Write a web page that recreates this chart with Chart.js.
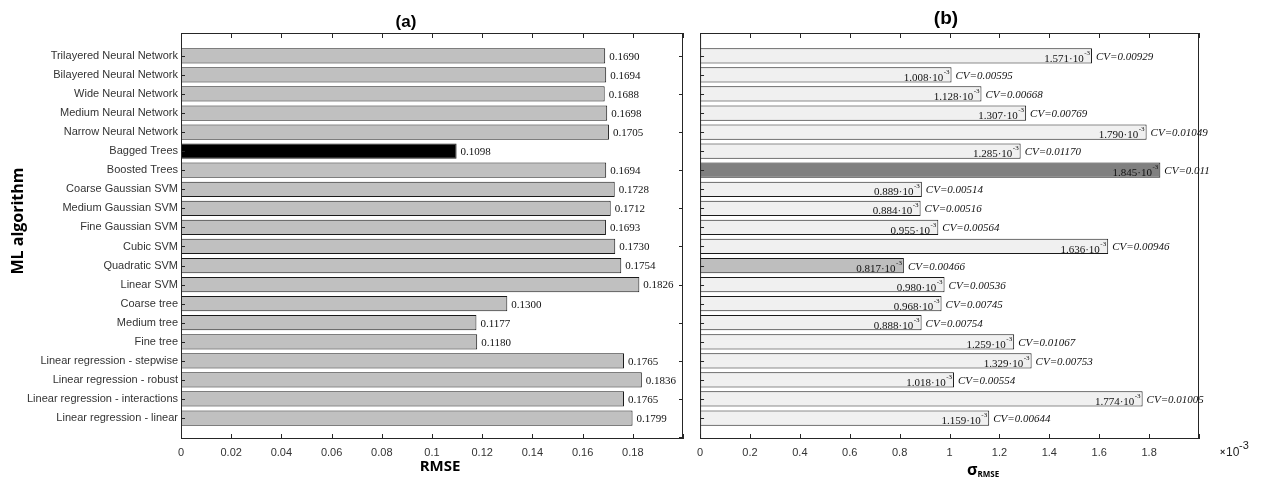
<!DOCTYPE html>
<html>
<head>
<meta charset="utf-8">
<title>ML algorithm - RMSE and sigma RMSE</title>
<script src="https://cdn.jsdelivr.net/npm/chart.js@4.4.1/dist/chart.umd.min.js"></script>
<style>
  body { margin: 0; background: #fff; }
  #wrap { position: relative; width: 1261px; height: 481px; background: #fff; }
  canvas { position: absolute; top: 0; }
  #chartA { left: 0; }
  #chartB { left: 690px; }
</style>
</head>
<body>
<div id="wrap">
  <canvas id="chartA" width="690" height="481"></canvas>
  <canvas id="chartB" width="571" height="481"></canvas>
</div>
<script>
// data, top row first
const algorithms = [
  'Trilayered Neural Network', 'Bilayered Neural Network', 'Wide Neural Network',
  'Medium Neural Network', 'Narrow Neural Network', 'Bagged Trees', 'Boosted Trees',
  'Coarse Gaussian SVM', 'Medium Gaussian SVM', 'Fine Gaussian SVM', 'Cubic SVM',
  'Quadratic SVM', 'Linear SVM', 'Coarse tree', 'Medium tree', 'Fine tree',
  'Linear regression - stepwise', 'Linear regression - robust',
  'Linear regression - interactions', 'Linear regression - linear'
];
const rmse = [0.1690, 0.1694, 0.1688, 0.1698, 0.1705, 0.1098, 0.1694, 0.1728, 0.1712, 0.1693,
              0.1730, 0.1754, 0.1826, 0.1300, 0.1177, 0.1180, 0.1765, 0.1836, 0.1765, 0.1799];
// sigma of RMSE, in units of 10^-3
const sigmaE3 = [1.571, 1.008, 1.128, 1.307, 1.790, 1.285, 1.845, 0.889, 0.884, 0.955,
                 1.636, 0.817, 0.980, 0.968, 0.888, 1.259, 1.329, 1.018, 1.774, 1.159];
const cv = ['0.00929', '0.00595', '0.00668', '0.00769', '0.01049', '0.01170', '0.011', '0.00514',
            '0.00516', '0.00564', '0.00946', '0.00466', '0.00536', '0.00745', '0.00754', '0.01067',
            '0.00753', '0.00554', '0.01005', '0.00644'];

const rmseTickValues = [0, 0.02, 0.04, 0.06, 0.08, 0.1, 0.12, 0.14, 0.16, 0.18, 0.2];
const rmseTickLabels = ['0', '0.02', '0.04', '0.06', '0.08', '0.1', '0.12', '0.14', '0.16', '0.18', ''];
const sigmaTickValues = [0, 0.2, 0.4, 0.6, 0.8, 1, 1.2, 1.4, 1.6, 1.8, 2];
const sigmaTickLabels = ['0', '0.2', '0.4', '0.6', '0.8', '1', '1.2', '1.4', '1.6', '1.8', ''];

Chart.defaults.font.family = "'Liberation Sans', Arial, sans-serif";
Chart.defaults.color = '#333';

const FRAME = '#262626';
const rows = algorithms.map((a, i) => i);

function colorA(name) {
  return name === 'Bagged Trees' ? '#000000' : '#c0c0c0';
}
function colorB(name) {
  if (name === 'Boosted Trees') return '#808080';
  if (name === 'Quadratic SVM') return '#bebebe';
  return '#f0f0f0';
}

function rowScale(showLabels) {
  return {
    type: 'linear',
    reverse: true,
    offset: false,
    min: -1.2,
    max: 20.1,
    display: showLabels,
    grid: { display: false, drawTicks: false },
    border: { display: false },
    afterBuildTicks: s => { s.ticks = rows.map(v => ({ value: v })); },
    ticks: {
      autoSkip: false,
      padding: 3,
      color: '#333',
      font: { size: 11 },
      callback: v => algorithms[Math.round(v)]
    },
    afterFit: s => { if (showLabels) s.width = 181; }
  };
}

function valueScale(max, values, labels) {
  return {
    type: 'linear',
    position: 'bottom',
    min: 0,
    max: max,
    grid: { display: false, drawTicks: false },
    border: { display: false },
    afterBuildTicks: s => { s.ticks = values.map(v => ({ value: v })); },
    ticks: {
      autoSkip: false,
      maxRotation: 0,
      padding: 7,
      color: '#333',
      font: { size: 11 },
      callback: (v, i) => labels[i]
    },
    afterFit: s => { s.height = 42; }
  };
}

// box round the plot area with ticks pointing inward, like the matlab axes
function drawFrame(chart, xTicks, leftRows, rightRows) {
  const { ctx, chartArea: a, scales } = chart;
  ctx.save();
  ctx.strokeStyle = FRAME;
  ctx.lineWidth = 1;
  ctx.strokeRect(a.left + 0.5, a.top + 0.5, a.right - a.left - 1, a.bottom - a.top - 1);
  ctx.beginPath();
  xTicks.forEach(v => {
    const x = Math.round(scales.x.getPixelForValue(v)) + 0.5;
    ctx.moveTo(x, a.bottom); ctx.lineTo(x, a.bottom - 5);
    ctx.moveTo(x, a.top); ctx.lineTo(x, a.top + 5);
  });
  leftRows.forEach(r => {
    const y = Math.round(scales.y.getPixelForValue(r)) + 0.5;
    ctx.moveTo(a.left, y); ctx.lineTo(a.left + 4, y);
  });
  rightRows.forEach(r => {
    const y = Math.round(scales.y.getPixelForValue(r)) + 0.5;
    ctx.moveTo(a.right, y); ctx.lineTo(a.right - 4, y);
  });
  ctx.stroke();
  ctx.restore();
}

const panelA = {
  id: 'panelA',
  afterDraw(chart) {
    const ctx = chart.ctx;
    const evenRows = [0, 2, 4, 6, 8, 10, 12, 14, 16, 18, 20];
    drawFrame(chart, rmseTickValues, rows, evenRows);

    ctx.save();
    ctx.fillStyle = '#111';
    ctx.font = "11px 'Liberation Serif', serif";
    ctx.textBaseline = 'middle';
    ctx.textAlign = 'left';
    chart.getDatasetMeta(0).data.forEach((bar, i) => {
      ctx.fillText(rmse[i].toFixed(4), bar.x + 4, bar.y + 1);
    });

    ctx.fillStyle = '#000';
    ctx.textAlign = 'center';
    ctx.font = "bold 17px 'Liberation Sans', Arial, sans-serif";
    ctx.fillText('(a)', 406, 22);
    ctx.font = "bold 15px 'Open Sans', sans-serif";
    ctx.fillText('RMSE', 440, 467);
    ctx.translate(18, 221);
    ctx.rotate(-Math.PI / 2);
    ctx.font = "bold 16px 'Open Sans', sans-serif";
    ctx.fillText('ML algorithm', 0, 0);
    ctx.restore();
  }
};

const panelB = {
  id: 'panelB',
  afterDraw(chart) {
    const ctx = chart.ctx;
    drawFrame(chart, sigmaTickValues, rows, []);

    ctx.save();
    ctx.fillStyle = '#111';
    ctx.textAlign = 'left';
    ctx.textBaseline = 'alphabetic';
    chart.getDatasetMeta(0).data.forEach((bar, i) => {
      const bottom = bar.y + bar.height / 2;
      ctx.font = "7px 'Liberation Serif', serif";
      const supW = ctx.measureText('-3').width;
      const supX = bar.x - 2 - supW;
      ctx.fillText('-3', supX, bottom - 8.5);
      ctx.font = "11px 'Liberation Serif', serif";
      const main = sigmaE3[i].toFixed(3) + '\u00b710';
      const mainW = ctx.measureText(main).width;
      ctx.fillText(main, supX - mainW - 0.5, bottom - 1.5);
      ctx.font = "italic 11px 'Liberation Serif', serif";
      ctx.fillText('CV=' + cv[i], bar.x + 4, bar.y + 4);
    });

    ctx.fillStyle = '#000';
    ctx.textAlign = 'center';
    ctx.font = "bold 19px 'Liberation Sans', Arial, sans-serif";
    ctx.fillText('(b)', 256, 24);

    ctx.textAlign = 'left';
    ctx.font = "bold 16px 'Open Sans', sans-serif";
    ctx.fillText('\u03c3', 277, 475);
    const sw = ctx.measureText('\u03c3').width;
    ctx.font = "bold 8px 'Open Sans', sans-serif";
    ctx.fillText('RMSE', 277 + sw, 477);

    ctx.fillStyle = '#222';
    ctx.font = "bold 9px 'Liberation Sans', Arial, sans-serif";
    ctx.fillText('\u00d7', 530, 455);
    ctx.font = "12px 'Liberation Sans', Arial, sans-serif";
    ctx.fillText('10', 536, 456);
    ctx.font = "11px 'Liberation Sans', Arial, sans-serif";
    ctx.fillText('-3', 549, 449);
    ctx.restore();
  }
};

new Chart(document.getElementById('chartA'), {
  type: 'bar',
  data: {
    datasets: [{
      data: rmse.map((v, i) => ({ x: v, y: i })),
      backgroundColor: algorithms.map(colorA),
      borderColor: '#1a1a1a',
      borderWidth: 1,
      barPercentage: 0.8,
      categoryPercentage: 1
    }]
  },
  options: {
    indexAxis: 'y',
    responsive: false,
    animation: false,
    layout: { padding: { left: 0, right: 4, top: 33, bottom: 0 } },
    scales: {
      x: valueScale(0.2, rmseTickValues, rmseTickLabels),
      y: rowScale(true)
    },
    plugins: { legend: { display: false }, tooltip: { enabled: false } }
  },
  plugins: [panelA]
});

new Chart(document.getElementById('chartB'), {
  type: 'bar',
  data: {
    datasets: [{
      data: sigmaE3.map((v, i) => ({ x: v, y: i })),
      backgroundColor: algorithms.map(colorB),
      borderColor: '#1a1a1a',
      borderWidth: 1,
      barPercentage: 0.8,
      categoryPercentage: 1
    }]
  },
  options: {
    indexAxis: 'y',
    responsive: false,
    animation: false,
    layout: { padding: { left: 7, right: 62, top: 33, bottom: 0 } },
    scales: {
      x: valueScale(2, sigmaTickValues, sigmaTickLabels),
      y: rowScale(false)
    },
    plugins: { legend: { display: false }, tooltip: { enabled: false } }
  },
  plugins: [panelB]
});
</script>
</body>
</html>
